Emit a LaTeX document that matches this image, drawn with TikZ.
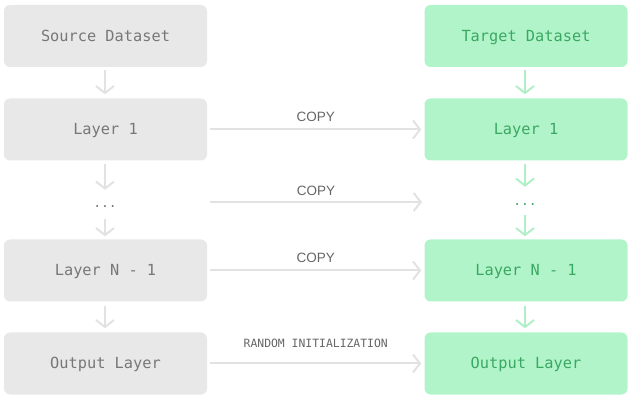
\documentclass[tikz,border=0pt]{standalone}
\usepackage{fontspec}
\setmainfont{Liberation Sans}
\newfontfamily\monof{DejaVu Sans Mono}
\usetikzlibrary{arrows.meta}
\definecolor{gbox}{HTML}{E8E8E8}
\definecolor{gtext}{HTML}{777777}
\definecolor{garrow}{HTML}{E2E2E2}
\definecolor{nbox}{HTML}{B1F4C9}
\definecolor{ntext}{HTML}{3BA862}
\definecolor{narrow}{HTML}{B1EFC7}
\definecolor{ltext}{HTML}{666666}
\tikzset{
  box/.style={rounded corners=6pt, minimum width=203pt, minimum height=62pt, inner sep=0pt,
    text height=11pt, text depth=0pt,
    font=\monof\fontsize{15.3}{17}\selectfont},
  srcbox/.style={box, fill=gbox, text=gtext},
  tgtbox/.style={box, fill=nbox, text=ntext},
  tip/.style={-{Straight Barb[length=7pt,width=18pt,line width=2pt]}, line width=2pt},
  garr/.style={tip, draw=garrow},
  narr/.style={tip, draw=narrow},
  dots/.style={font=\monof\fontsize{13}{14}\selectfont, inner sep=0pt, text height=0pt, text depth=0pt, minimum height=26pt},
  copylab/.style={font=\fontsize{13.5}{15}\selectfont, text=ltext, inner sep=0pt},
  randlab/.style={font=\monof\fontsize{11.4}{13}\selectfont, text=ltext, inner sep=0pt}
}
\begin{document}
\begin{tikzpicture}[x=1pt,y=-1pt]
\useasboundingbox (0,0) rectangle (633,401);
% left column
\node[srcbox] (ls) at (105.5,36) {Source Dataset};
\node[srcbox] (l1) at (105.5,129.5) {Layer 1};
\node[dots, text=gtext] (ld) at (105,208) {...};
\node[srcbox] (ln) at (105.5,270.5) {Layer N - 1};
\node[srcbox] (lo) at (105.5,363.5) {Output Layer};
% right column
\node[tgtbox] (rs) at (526,36) {Target Dataset};
\node[tgtbox] (r1) at (526,129.5) {Layer 1};
\node[dots, text=ntext] (rd) at (525,206) {...};
\node[tgtbox] (rn) at (526,270.5) {Layer N - 1};
\node[tgtbox] (ro) at (526,363.5) {Output Layer};
% vertical arrows left
\draw[garr, shorten <=3pt, shorten >=4pt] (ls.south -| 105,0) -- (l1.north -| 105,0);
\draw[garr, shorten <=3pt, shorten >=5pt] (l1.south -| 105,0) -- (ld.north);
\draw[garr, shorten <=-2pt, shorten >=3pt] (ld.south) -- (ln.north -| 105,0);
\draw[garr, shorten <=4pt, shorten >=4pt] (ln.south -| 105,0) -- (lo.north -| 105,0);
% vertical arrows right
\draw[narr, shorten <=3pt, shorten >=4pt] (rs.south -| 525,0) -- (r1.north -| 525,0);
\draw[narr, shorten <=3pt, shorten >=6pt] (r1.south -| 525,0) -- (rd.north);
\draw[narr, shorten <=-4pt, shorten >=3pt] (rd.south) -- (rn.north -| 525,0);
\draw[narr, shorten <=4pt, shorten >=4pt] (rn.south -| 525,0) -- (ro.north -| 525,0);
% horizontal arrows
\coordinate (ca) at (210,202);
\coordinate (cb) at (422,202);
\draw[garr, shorten <=3pt, shorten >=3pt] (l1.east) -- node[copylab, above=7pt] (c1) {COPY} (r1.west);
\draw[garr] (ca) -- node[copylab, above=5pt] (c2) {COPY} (cb);
\draw[garr, shorten <=3pt, shorten >=3pt] (ln.east) -- node[copylab, above=7pt] (c3) {COPY} (rn.west);
\draw[garr, shorten <=3pt, shorten >=3pt] (lo.east) -- node[randlab, above=15pt] (c4) {RANDOM INITIALIZATION} (ro.west);
\end{tikzpicture}
\end{document}
